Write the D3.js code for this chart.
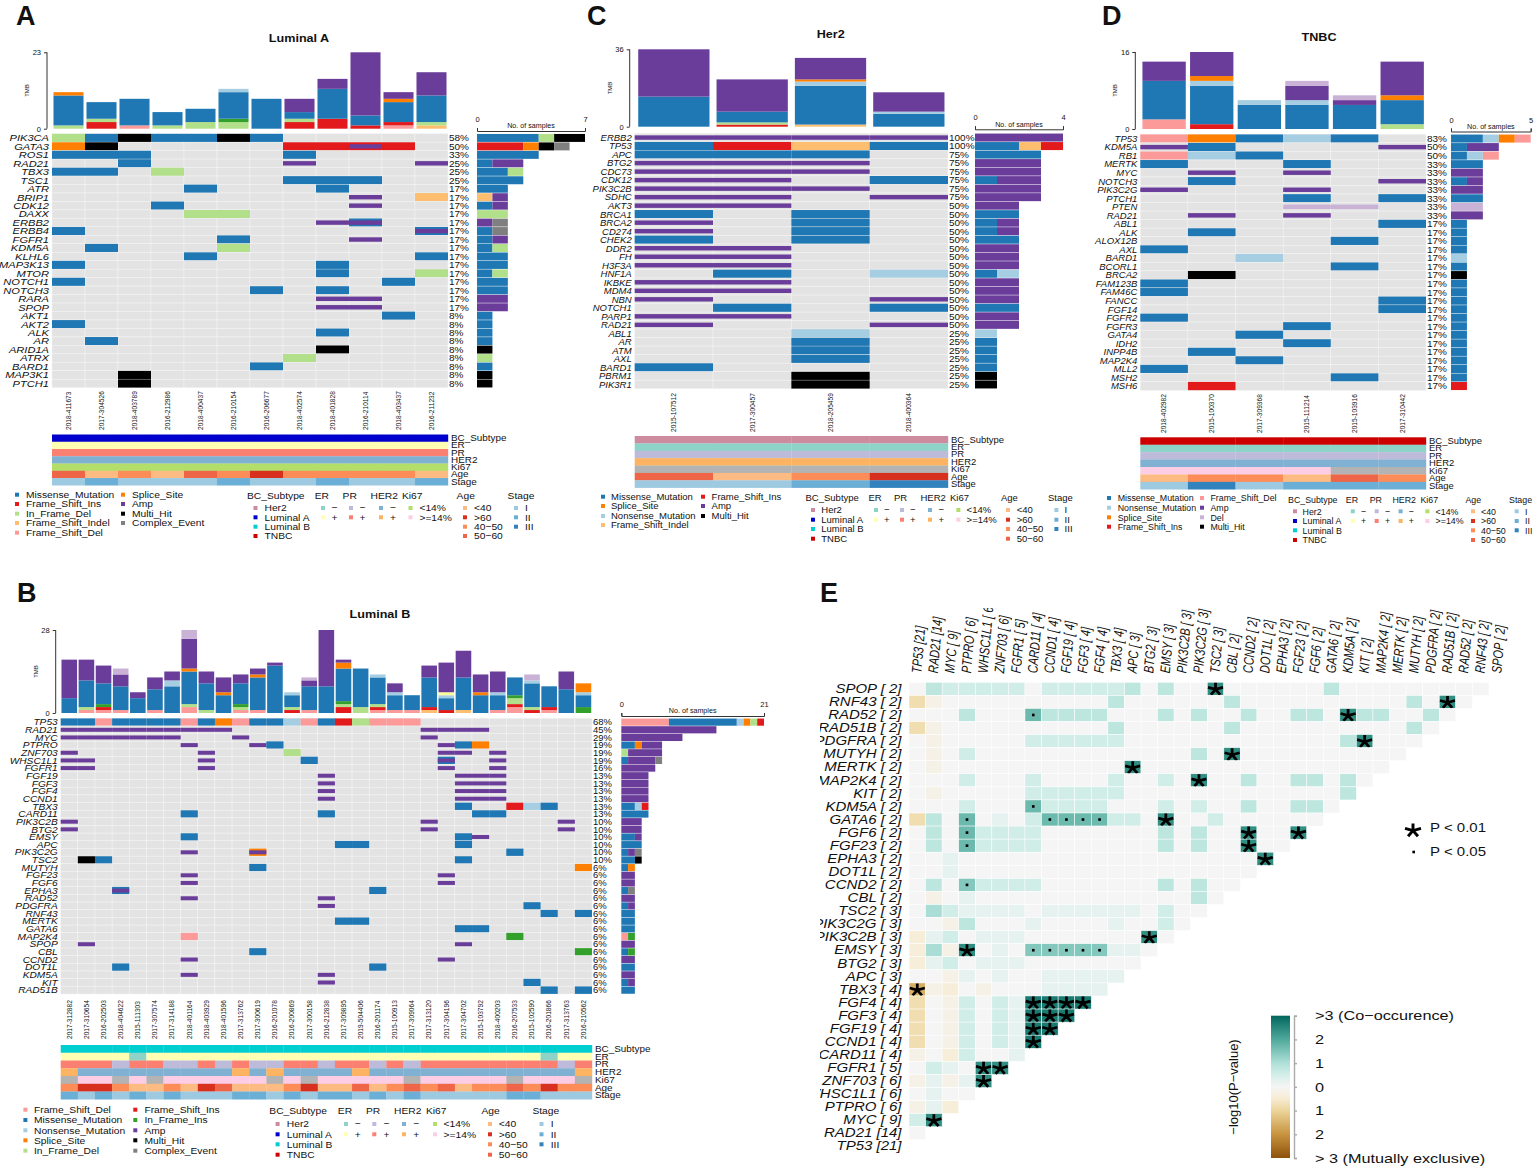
<!DOCTYPE html>
<html>
<head>
<meta charset="utf-8">
<script src="https://cdnjs.cloudflare.com/ajax/libs/d3/7.8.5/d3.min.js"></script>
<style>
  html, body { margin: 0; padding: 0; background: #fff; }
  text { font-family: "Liberation Sans", Arial, sans-serif; fill: #111; }
</style>
</head>
<body>
<div id="chart"></div>
<script>
// mutation classes, one letter each in the tables below
const mutColors = { M: "#1f78b4", I: "#e31a1c", D: "#b2df8a", S: "#fdbf6f", F: "#fb9a99", P: "#ff7f00",
  A: "#6a3d9a", H: "#000000", C: "#7f7f7f", N: "#a6cee3", Z: "#cab2d6", G: "#33a02c", Y: "#ffff99" };
const mutNames = { M: "Missense_Mutation", I: "Frame_Shift_Ins", D: "In_Frame_Del", S: "Frame_Shift_Indel",
  F: "Frame_Shift_Del", P: "Splice_Site", A: "Amp", H: "Multi_Hit", C: "Complex_Event",
  N: "Nonsense_Mutation", Z: "Del", G: "In_Frame_Ins" };
// lower case = base mutation with an amp drawn on top
const overlayBase = { m: "M", i: "I", p: "P" };

// Luminal A
const samplesA = ["2018-411673","2017-304526","2018-403789","2016-212986","2018-400437","2016-210154","2016-206677","2018-402574","2018-401828","2016-210114","2018-403437","2016-211232"];
const genesA = ["PIK3CA","GATA3","ROS1","RAD21","TBX3","TSC1","ATR","BRIP1","CDK12","DAXX","ERBB2","ERBB4","FGFR1","KDM5A","KLHL6","MAP3K13","MTOR","NOTCH1","NOTCH3","RARA","SPOP","AKT1","AKT2","ALK","AR","ARID1A","ATRX","BARD1","MAP3K1","PTCH1"];
const pctA = [58,50,33,25,25,25,17,17,17,17,17,17,17,17,17,17,17,17,17,17,17,8,8,8,8,8,8,8,8,8];
const cellsA = ["0D 1M 2H 3M 4M 5H 6M","0P 1H 7I 8I 9i 10I","0M 1M 2M 7M","2M 7A 11A","0M 1M 3D","7M 8M 9M","4M 8M","9A 11S","3M 9A","4D 5D","8A 9m","0M 11m","5M 9A","1M 5D","4M 11M","0M 8M","8M 11D","0M 10M","6M 8M","8A 9A","8A 9A","10M","0M","8M","1M","8H","7D","6M","2H","2H"];
const sideA = ["M4 D1 H2","I3 P1 H1 C1","M4","M1 A2","M2 D1","M3","M2","S1 A1","M1 A1","D2","A1 C1","M1 C1","M1 A1","M1 D1","M2","M2","M1 D1","M2","M2","A2","A2","M1","M1","M1","M1","H1","D1","M1","H1","H1"];
const tmbA = ["D1 M9 P1","I2 D1 M5","F1 M8","D1 M4","D2 M4","D2 G1 M8 N1","M9","I2 D1 M2 A4","I3 M9 A3","I1 M3 A19","F1 I1 M6 P1 A2","S1 D1 M8 A7"];
const clinA = ["AAAAAAAAAAAA","++++++++++++","++++++++++++","------------","llllllllllll","hymyhmommmmy","121112112112"];

// Luminal B
const samplesB = ["2017-312882","2017-310654","2016-202503","2018-404622","2015-111303","2017-307574","2017-314188","2018-401164","2018-403929","2018-401596","2017-313762","2017-300619","2016-201078","2016-200869","2017-300158","2016-212838","2017-309895","2019-504406","2016-201174","2015-100913","2017-309064","2017-313120","2017-304196","2017-304702","2015-103792","2018-400203","2016-207533","2015-102590","2016-201866","2017-313763","2016-210562"];
const genesB = ["TP53","RAD21","MYC","PTPRO","ZNF703","WHSC1L1","FGFR1","FGF19","FGF3","FGF4","CCND1","TBX3","CARD11","PIK3C2B","BTG2","EMSY","APC","PIK3C2G","TSC2","MUTYH","FGF23","FGF6","EPHA3","RAD52","PDGFRA","RNF43","MERTK","GATA6","MAP2K4","SPOP","CBL","CCND2","DOT1L","KDM5A","KIT","RAD51B"];
const pctB = [68,45,29,19,19,19,16,13,13,13,13,13,13,10,10,10,10,10,10,6,6,6,6,6,6,6,6,6,6,6,6,6,6,6,6,6];
const cellsB = ["0M 1M 2F 3M 4M 5M 6M 7F 8M 9P 10F 11M 12M 13N 14F 15M 16I 17D 18F 19F 20F",
  "0A 1A 2A 3A 4A 5A 6A 7A 8A 9A 21A 22A 23A 24A","0A 1A 2A 3A 4A 5A 6A 10A 21A","7A 11A 12M 22A 23M 24P",
  "0A 8A 13D 22A 23A 25A","0A 1A 8A 14M 22m 25A","0A 1A 8A 22A 25A","15A 23A 24A 25A","15A 23A 24A 25A","15A 23A 24A 25A","15A 23A 24A 25A",
  "23M 26I 27N 28M","7M 15M 24M 25M","0A 21A 29A","0A 21A 29A","7M 23M 24A","16M 17M 23M","7A 11p 26M","1H 2M 23M","11M 30P",
  "7A 22A","7A 22A","3m 18M","7A 15A","15A 27M","28M 30M","16M 17M","23M 24M","7F 26G","1A 23A","11M 30G","7A 22A","3M 18M","7A 15A","15A 27M","28M 30M"];
const sideB = ["F7 M10 N1 P1 D1 I1","A14","A9","M2 P1 A3","D1 A5","M1 A4 C1","A5","A4","A4","A4","A4","M2 N1 I1","M4","A3","A3","M2 A1","M3","M1 A1 C1","M2 H1","M1 P1","A2","A2","M1 C1","A2","M1 A1","M2","M2","M2","F1 G1","A2","M1 G1","A2","M2","A2","M1 A1","M2"];
const tmbB = ["M5 A13","F1 D1 M9 A7","F1 I1 G1 M7 A6","F1 M8 A4 Z2","M5 A2","F1 M7 A4","M9 N2 A3","F2 D1 M11 P1 A10 Z3","D1 M9 A4","M6 P1 A5","F1 D1 G1 M7 A3","F1 M11 P1 A2","M16 A1","I1 D1 M4 N1","F1 M8 A2 Z1","M9 A19","I2 D1 G1 M11 P2 A1","D2 M13","F1 I1 D1 M9 N1","F1 M5 N1 A3","F1 M5","S1 I1 M10 A4","I1 M4 N1 Y1 A10","S1 M11 A9","M6 P1 A6","F1 M5 N1 A7","F2 I1 D2 G1 M6","I1 D1 M8 N1 Z2","F1 I1 M7","M8 A6","G2 M4 N1 P3"];
const clinB = ["BBBBBBBBBBBBBBBBBBBBBBBBBBBBBBB","++++-+++++++++++++++++++++++-++","+++-++--+-+--++-++-+-++++++++-+","+---------+-+----+------------+","nggngnggggggngngggggngggggngggn","moomyymyohyyymoyyhymhmhymmhmomm","2121212111221212212121111122111"];

// Her2
const samplesC = ["2015-107512","2017-300457","2018-205459","2018-400364"];
const genesC = ["ERBB2","TP53","APC","BTG2","CDC73","CDK12","PIK3C2B","SDHC","AKT3","BRCA1","BRCA2","CD274","CHEK2","DDR2","FH","H3F3A","HNF1A","IKBKE","MDM4","NBN","NOTCH1","PARP1","RAD21","ABL1","AR","ATM","AXL","BARD1","PBRM1","PIK3R1"];
const pctC = [100,100,75,75,75,75,75,75,50,50,50,50,50,50,50,50,50,50,50,50,50,50,50,25,25,25,25,25,25,25];
const cellsC = ["0A 1A 2A 3A","0M 1I 2S 3M","0M 1M 2M","0A 1A 2A","0A 1A 2A","0A 1A 3M","0A 1A 2A","0A 1A 3A","0A 1A","0M 2M","0A 2M","0A 2M","0M 2M","0A 1A","0A 1A","0A 1A","1M 3N","0A 1A","0A 1A","0A 3A","1M 3M","0A 1A","0A 3A","2N","2M","2M","2M","0M","2H","2H"];
const sideC = ["A4","M2 S1 I1","M3","A3","A3","M1 A2","A3","A3","A2","M2","M1 A1","M1 A1","M2","A2","A2","A2","M1 N1","A2","A2","A2","M2","A2","A2","N1","M1","M1","M1","M1","H1","H1"];
const tmbC = ["M14 A22","I1 D1 M5 A15","S1 M18 N2 P1 A10","M6 N1 A9"];
const clinC = ["HHHH","----","----","++++","nnnn","hymo","1123"];

// TNBC
const samplesD = ["2018-402982","2015-100370","2017-309368","2015-111214","2015-103916","2017-310442"];
const genesD = ["TP53","KDM5A","RB1","MERTK","MYC","NOTCH3","PIK3C2G","PTCH1","PTEN","RAD21","ABL1","ALK","ALOX12B","AXL","BARD1","BCORL1","BRCA2","FAM123B","FAM46C","FANCC","FGF14","FGFR2","FGFR3","GATA4","IDH2","INPP4B","MAP2K4","MLL2","MSH2","MSH6"];
const pctD = [83,50,50,33,33,33,33,33,33,33,17,17,17,17,17,17,17,17,17,17,17,17,17,17,17,17,17,17,17,17];
const cellsD = ["0F 1P 2M 3N 4M","0A 1M 5A","0F 1N 2M","0M 3M","1A 3A","1M 5A","0A 3A","3M 5M","3Z 4Z","1A 3A","5M","1M","4M","0M","2N","4M","1H","0M","0M","5M","5M","0M","3M","2M","3M","1M","2M","0M","4M","1I"];
const sideD = ["M2 N1 P1 F1","M1 A2","M1 N1 F1","M2","A2","M1 A1","A2","M2","Z2","A2","M1","M1","M1","M1","N1","M1","H1","M1","M1","M1","M1","M1","M1","M1","M1","M1","M1","M1","M1","I1"];
const tmbD = ["F2 M8 A4","I1 M8 N1 P1 A5","M5 N1","M5 N1 A3 Z1","M5 A1 Z1","D1 M5 P1 A7"];
const clinD = ["TTTTTT","------","------","------","ggggnn","ymmyhm","131222"];

// clinical tracks
const trackNames = ["BC_Subtype","ER","PR","HER2","Ki67","Age","Stage"];
const trackColors = [
  { H: "#cd8b9f", A: "#0000cd", B: "#00ced1", T: "#cd0000" },
  { "-": "#8dd3c7", "+": "#ffffb3" },
  { "-": "#bebada", "+": "#fb8072" },
  { "-": "#80b1d3", "+": "#fdb462" },
  { l: "#b3de69", g: "#fccde5", n: "#b3b3b3" },
  { y: "#fdbb84", o: "#d7301f", m: "#fc8d59", h: "#ef6548" },
  { 1: "#9ecae1", 2: "#6baed6", 3: "#3182bd" }
];
const trackLegend = [
  [["H","Her2"],["A","Luminal A"],["B","Luminal B"],["T","TNBC"]],
  [["-","\u2212"],["+","+"]],
  [["-","\u2212"],["+","+"]],
  [["-","\u2212"],["+","+"]],
  [["l","<14%"],["g",">=14%"]],
  [["y","<40"],["o",">60"],["m","40\u221250"],["h","50\u221260"]],
  [["1","I"],["2","II"],["3","III"]]
];

// co-occurrence panel
const coGenes = ["TP53","RAD21","MYC","PTPRO","WHSC1L1","ZNF703","FGFR1","CARD11","CCND1","FGF19","FGF3","FGF4","TBX3","APC","BTG2","EMSY","PIK3C2B","PIK3C2G","TSC2","CBL","CCND2","DOT1L","EPHA3","FGF23","FGF6","GATA6","KDM5A","KIT","MAP2K4","MERTK","MUTYH","PDGFRA","RAD51B","RAD52","RNF43","SPOP"];
const coCounts = [21,14,9,6,6,6,5,4,4,4,4,4,4,3,3,3,3,3,3,2,2,2,2,2,2,2,2,2,2,2,2,2,2,2,2,2];
const coRowGenes = ["SPOP","RNF43","RAD52","RAD51B","PDGFRA","MUTYH","MERTK","MAP2K4","KIT","KDM5A","GATA6","FGF6","FGF23","EPHA3","DOT1L","CCND2","CBL","TSC2","PIK3C2G","PIK3C2B","EMSY","BTG2","APC","TBX3","FGF4","FGF3","FGF19","CCND1","CARD11","FGFR1","ZNF703","WHSC1L1","PTPRO","MYC","RAD21","TP53"];
const coRowCounts = [2,2,2,2,2,2,2,2,2,2,2,2,2,2,2,2,2,3,3,3,3,3,3,4,4,4,4,4,4,5,6,6,6,9,14,21];
const coCells = [
  ".cbbbbb.bbbbbc.c..S......c.........",
  "wu..........c......c..........c.S.",
  "...c...Dcccc...c.c..c..cc.Scc..c.",
  "wu..........c......c..........c.",
  ".u.....bbbbbb.............cS...",
  ".u.b.............c.S..........",
  ".u...........S...............",
  "...b...b....b..b.S..c..cc.c.",
  ".u.....bbbbbb.............c",
  "...b...Dbbbb...b.b..c..cc.",
  "wc.D.a.bDDDDbb.S..b......",
  ".c.Dbbbb.......c.c..S..S",
  ".c.Dbbbb.......c.c..S..",
  "..a..................S",
  "..a..................",
  ".c.Ebbbb.......c.c..",
  ".u.a.............c.",
  ".dbaaaa.aaaaaa.b..",
  "..uc...a....a..b.",
  "vab.aaa.......S.",
  "vduS.a.EEEEEaa.",
  "vab.aaa.......",
  "..ua.a..aaaaa",
  "Xuv.u...aaaa",
  "w.ub.baTTTT",
  "w.ub.baTTT",
  "w.ub.baTT",
  "w.ub.baT",
  "u.vb..a",
  ".ba.SS",
  "uauaS",
  ".a..",
  "uav",
  "bS",
  ".",
  ""
];
// signed -log10(p) for each cell letter
const coValues = { ".": 0, a: 0.25, b: 0.55, c: 0.8, d: 1.05, E: 1.45, D: 1.7, S: 2.4, T: 2.7, u: -0.2, v: -0.4, w: -0.8, X: -1.6 };
const coStars = "STX", coDots = "ED";
const colorbarLabels = ["> 3 (Mutually exclusive)","2","1","0","1","2",">3 (Co\u2212occurence)"];
const colorbarTicks = [-3,-2,-1,0,1,2,3];

const svg = d3.select("#chart").append("svg").attr("width", 1535).attr("height", 1168);

// text helper, the source figure is stretched sideways
function label(g, x, y, str, size, sx, anchor) {
  return g.append("text")
    .attr("transform", `translate(${x},${y}) scale(${sx || 1},1)`)
    .attr("dy", ".35em")
    .attr("text-anchor", anchor || "start")
    .style("font-size", size + "px")
    .text(str);
}

const parseStack = s => s.split(" ").map(t => ({ code: t[0], n: +t.slice(1) }));
const parseCells = s => Array.from(s.matchAll(/(\d+)([A-Za-z])/g), m => ({ col: +m[1], code: m[2] }));

function oncoplot(p) {
  const g = svg.append("g");
  const x = d3.scaleBand().domain(p.samples).range([p.x0, p.x1]);
  const y = d3.scaleBand().domain(p.genes).range([p.y0, p.y1]);

  label(g, p.titleX, p.titleY, p.title, 10.5, 1.2, "middle").style("font-weight", "bold");

  // TMB stacked bars
  const yTmb = d3.scaleLinear().domain([0, p.tmbMax]).range([p.tmbBase, p.tmbTop]);
  const barW = x.bandwidth() * 0.91;
  p.tmb.forEach((s, i) => {
    let sum = 0;
    parseStack(s).forEach(d => {
      g.append("rect")
        .attr("x", x(p.samples[i]) + (x.bandwidth() - barW) / 2)
        .attr("y", yTmb(sum + d.n))
        .attr("width", barW)
        .attr("height", yTmb(sum) - yTmb(sum + d.n))
        .attr("fill", mutColors[d.code]);
      sum += d.n;
    });
  });
  const axL = g.append("g").attr("transform", `translate(${p.x0 - 5},0)`)
    .call(d3.axisLeft(yTmb).tickValues([0, p.tmbMax]).tickFormat(d3.format("d")).tickSize(3).tickPadding(3));
  axL.selectAll("path,line").attr("stroke", "#333");
  axL.selectAll("text").style("font-size", "7.5px").attr("fill", "#333").style("font-family", "Liberation Sans");
  axL.select(".domain").attr("d", `M0,${p.tmbBase}V${p.tmbTop}`);
  g.append("text").attr("transform", `translate(${p.x0 - 23},${(p.tmbBase + p.tmbTop) / 2}) rotate(-90)`)
    .attr("text-anchor", "middle").style("font-size", "6px").text("TMB");

  // oncoplot matrix
  p.genes.forEach((gene, r) => {
    p.samples.forEach(s => {
      g.append("rect").attr("x", x(s)).attr("y", y(gene)).attr("width", x.bandwidth()).attr("height", y.bandwidth())
        .attr("fill", "#e3e3e3").attr("stroke", "#f4f4f4").attr("stroke-width", 0.5);
    });
    parseCells(p.cells[r]).forEach(c => {
      const base = overlayBase[c.code] || c.code;
      const narrow = base === "A" || base === "Z";
      const h = narrow ? y.bandwidth() * 0.52 : y.bandwidth() * 0.97;
      g.append("rect").attr("x", x(p.samples[c.col])).attr("width", x.bandwidth())
        .attr("y", y(gene) + (y.bandwidth() - h) / 2).attr("height", h)
        .attr("fill", mutColors[base]);
      if (overlayBase[c.code]) {
        const h2 = y.bandwidth() * 0.52;
        g.append("rect").attr("x", x(p.samples[c.col])).attr("width", x.bandwidth())
          .attr("y", y(gene) + (y.bandwidth() - h2) / 2).attr("height", h2)
          .attr("fill", mutColors.A);
      }
    });
    label(g, p.x0 - 3, y(gene) + y.bandwidth() / 2, gene, p.geneFont, p.geneSx, "end").style("font-style", "italic");
    label(g, p.x1 + 1, y(gene) + y.bandwidth() / 2, p.pct[r] + "%", p.geneFont, 1.05);
  });

  // samples per gene
  const xSide = d3.scaleLinear().domain([0, p.sideMax]).range([p.sx0, p.sx1]);
  p.genes.forEach((gene, r) => {
    let sum = 0;
    parseStack(p.side[r]).forEach(d => {
      g.append("rect").attr("x", xSide(sum)).attr("y", y(gene) + 0.25)
        .attr("width", xSide(sum + d.n) - xSide(sum)).attr("height", y.bandwidth() - 0.5)
        .attr("fill", mutColors[d.code]);
      sum += d.n;
    });
  });
  const axT = g.append("g").attr("transform", `translate(0,${p.sideAxisY})`)
    .call(d3.axisTop(xSide).tickValues([0, p.sideMax]).tickFormat(d3.format("d")).tickSize(3).tickPadding(6));
  axT.selectAll("path,line").attr("stroke", "#333");
  axT.selectAll("text").style("font-size", "7.5px").attr("fill", "#333").style("font-family", "Liberation Sans");
  label(g, (p.sx0 + p.sx1) / 2, p.sideAxisY - 5, "No. of samples", 6.5, 1.1, "middle");

  // sample ids
  p.samples.forEach(s => {
    g.append("text").attr("transform", `translate(${x(s) + x.bandwidth() / 2},${p.idBottom}) rotate(-90)`)
      .attr("dy", ".35em").attr("text-anchor", "start").style("font-size", "6.6px").text(s);
  });

  // clinical tracks
  const yTrack = d3.scaleBand().domain(trackNames).range([p.trackTop, p.trackBottom]);
  trackNames.forEach((t, k) => {
    p.clin[k].split("").forEach((code, i) => {
      g.append("rect").attr("x", x(p.samples[i])).attr("y", yTrack(t))
        .attr("width", x.bandwidth() + 0.2).attr("height", yTrack.bandwidth() + 0.2)
        .attr("fill", trackColors[k][code]);
    });
    label(g, p.x1 + 3, yTrack(t) + yTrack.bandwidth() / 2, t, 8.5, p.trackSx * 1.06);
  });

  // legend, mutation classes
  p.mutLegend.forEach(col => {
    col.codes.forEach((code, i) => {
      const yy = p.mutRows[i];
      g.append("rect").attr("x", col.mx - 2).attr("y", yy - 2).attr("width", 4).attr("height", 4).attr("fill", mutColors[code]);
      label(g, col.tx, yy, mutNames[code], 9.5, p.legendSx);
    });
  });

  // legend, clinical
  trackNames.forEach((t, k) => {
    label(g, p.headX[k], p.headY, t, 9.5, p.legendSx);
    trackLegend[k].forEach((it, i) => {
      const yy = p.itemRows[i];
      g.append("rect").attr("x", p.itemMx[k] - 2).attr("y", yy - 2).attr("width", 4).attr("height", 4).attr("fill", trackColors[k][it[0]]);
      label(g, p.itemTx[k], yy, it[1], 9.5, p.legendSx);
    });
  });
}

oncoplot({
  title: "Luminal A", titleX: 299, titleY: 38,
  samples: samplesA, genes: genesA, pct: pctA, cells: cellsA, side: sideA, tmb: tmbA, clin: clinA,
  x0: 52, x1: 448, y0: 133.7, y1: 387.7, geneFont: 9.5, geneSx: 1.17,
  tmbMax: 23, tmbBase: 128.7, tmbTop: 52.3,
  sideMax: 7, sx0: 477, sx1: 585, sideAxisY: 131,
  idBottom: 430, trackTop: 434.5, trackBottom: 485.3, trackSx: 1.1, legendSx: 1.08,
  mutLegend: [{ codes: ["M","I","D","S","F"], mx: 17, tx: 26 }, { codes: ["P","A","H","C"], mx: 123, tx: 132 }],
  mutRows: [494.7, 504, 513.7, 523, 532.7],
  headX: [247, 314.7, 342.6, 370.5, 402, 456.6, 507.6], headY: 495.3,
  itemMx: [255.5, 323, 351, 381, 410.5, 465, 516], itemTx: [264.5, 331.6, 359.5, 390, 419.4, 474, 525],
  itemRows: [508, 517.3, 526.7, 536]
});

oncoplot({
  title: "Luminal B", titleX: 380, titleY: 614,
  samples: samplesB, genes: genesB, pct: pctB, cells: cellsB, side: sideB, tmb: tmbB, clin: clinB,
  x0: 60.7, x1: 592, y0: 718.3, y1: 994, geneFont: 9, geneSx: 1.13,
  tmbMax: 28, tmbBase: 713, tmbTop: 630,
  sideMax: 21, sx0: 621.3, sx1: 764, sideAxisY: 716,
  idBottom: 1039, trackTop: 1045, trackBottom: 1099.3, trackSx: 1.1, legendSx: 1.08,
  mutLegend: [{ codes: ["F","M","N","P","D"], mx: 25.4, tx: 34 }, { codes: ["I","G","A","H","C"], mx: 135.3, tx: 144.4 }],
  mutRows: [1109.7, 1120, 1130.3, 1140.3, 1150.7],
  headX: [269.3, 337.8, 366, 394, 426, 481.4, 532.4], headY: 1110.7,
  itemMx: [277.6, 346, 374.3, 404, 435, 490, 541.5], itemTx: [286.8, 354.8, 383.4, 413.3, 443.6, 498.8, 550.7],
  itemRows: [1124, 1134.3, 1144.3, 1154.7]
});

oncoplot({
  title: "Her2", titleX: 830.7, titleY: 34.7,
  samples: samplesC, genes: genesC, pct: pctC, cells: cellsC, side: sideC, tmb: tmbC, clin: clinC,
  x0: 634.7, x1: 948, y0: 133.3, y1: 388.7, geneFont: 9.5, geneSx: 1,
  tmbMax: 36, tmbBase: 126.7, tmbTop: 49.3,
  sideMax: 4, sx0: 975, sx1: 1063, sideAxisY: 129.3,
  idBottom: 432, trackTop: 436, trackBottom: 487.7, trackSx: 1.05, legendSx: 1,
  mutLegend: [{ codes: ["M","P","N","S"], mx: 603, tx: 611 }, { codes: ["I","A","H"], mx: 703, tx: 711.6 }],
  mutRows: [496.7, 506, 516, 525],
  headX: [805.5, 868.5, 894, 920.5, 950, 1001, 1048], headY: 497.7,
  itemMx: [813, 876, 902, 930, 958.4, 1008, 1056.4], itemTx: [821.3, 884, 910, 938.5, 966.6, 1016.7, 1064.6],
  itemRows: [510, 519.7, 529, 538.7]
});

oncoplot({
  title: "TNBC", titleX: 1319, titleY: 37,
  samples: samplesD, genes: genesD, pct: pctD, cells: cellsD, side: sideD, tmb: tmbD, clin: clinD,
  x0: 1140.3, x1: 1426, y0: 134.3, y1: 390.3, geneFont: 9.5, geneSx: 1,
  tmbMax: 16, tmbBase: 129, tmbTop: 52,
  sideMax: 5, sx0: 1451, sx1: 1530.7, sideAxisY: 131.5,
  idBottom: 433, trackTop: 437.3, trackBottom: 489.3, trackSx: 1.05, legendSx: 0.93,
  mutLegend: [{ codes: ["M","N","P","I"], mx: 1109, tx: 1117.7 }, { codes: ["F","A","Z","H"], mx: 1202, tx: 1210.4 }],
  mutRows: [498, 507.7, 517.3, 526.7],
  headX: [1288, 1345.8, 1369.7, 1392.5, 1420.4, 1465.4, 1509], headY: 499.3,
  itemMx: [1295, 1352.8, 1376.7, 1400.6, 1427.4, 1473, 1516.7], itemTx: [1302.6, 1361, 1385, 1408.8, 1435.6, 1481, 1525],
  itemRows: [511.3, 521, 530.3, 540]
});

// Panel E
const eg = svg.append("g");
const xCo = d3.scaleBand().domain(coGenes).range([909, 909 + 36 * 16.57]);
const yCo = d3.scaleBand().domain(coRowGenes).range([682.3, 682.3 + 36 * 13.07]);
const coColor = d3.scaleLinear()
  .domain([-3, -2, -1, -0.5, 0, 0.5, 1, 2, 3])
  .range(["#8c510a", "#c89440", "#ecd49a", "#f6ecd2", "#f5f5f5", "#d4eee9", "#aee0d8", "#4fa99c", "#01665e"]);
const coLabel = (g, n) => `${g} [${n < 10 ? " " + n : n}]`;

const defs = svg.append("defs");
defs.append("clipPath").attr("id", "clipTop").append("rect").attr("x", 880).attr("y", 608).attr("width", 640).attr("height", 80);
defs.append("clipPath").attr("id", "clipLeft").append("rect").attr("x", 820).attr("y", 670).attr("width", 90).attr("height", 490);

// five armed star for the significant cells
function drawStar(g, cx, cy, r) {
  const path = d3.path();
  d3.range(5).forEach(i => {
    const a = -Math.PI / 2 + i * 2 * Math.PI / 5;
    path.moveTo(0, 0);
    path.lineTo(r * 1.2 * Math.cos(a), r * Math.sin(a));
  });
  g.append("path").attr("transform", `translate(${cx},${cy + 0.6})`)
    .attr("d", path.toString()).attr("fill", "none")
    .attr("stroke", "#000").attr("stroke-width", r * 0.42);
}

coRowGenes.forEach((gene, r) => {
  coCells[r].split("").forEach((code, c) => {
    eg.append("rect")
      .attr("x", xCo(coGenes[c])).attr("y", yCo(gene))
      .attr("width", xCo.bandwidth()).attr("height", yCo.bandwidth())
      .attr("fill", coColor(coValues[code])).attr("stroke", "#fff").attr("stroke-width", 0.5);
    const cx = xCo(coGenes[c]) + xCo.bandwidth() / 2, cy = yCo(gene) + yCo.bandwidth() / 2;
    if (coStars.includes(code)) {
      drawStar(eg, cx, cy, 6.6);
    } else if (coDots.includes(code)) {
      eg.append("path").attr("transform", `translate(${cx},${cy})`)
        .attr("d", d3.symbol(d3.symbolSquare, 7)()).attr("fill", "#000");
    }
  });
});

const rowLabels = eg.append("g").attr("clip-path", "url(#clipLeft)");
coRowGenes.forEach((gene, r) => {
  label(rowLabels, 901.5, yCo(gene) + yCo.bandwidth() / 2, coLabel(gene, coRowCounts[r]), 12, 1.25, "end").style("font-style", "italic");
});
const colLabels = eg.append("g").attr("clip-path", "url(#clipTop)");
coGenes.forEach((gene, c) => {
  colLabels.append("text")
    .attr("transform", `translate(${xCo(gene) + xCo.bandwidth() / 2 - 1},673) rotate(-85) scale(0.78,1)`)
    .attr("dy", ".35em").style("font-size", "14px").style("font-style", "italic")
    .text(coLabel(gene, coCounts[c]));
});

// significance key
drawStar(eg, 1413, 830, 7);
eg.append("path").attr("transform", "translate(1413.7,852)").attr("d", d3.symbol(d3.symbolSquare, 7)());
label(eg, 1430, 828, "P < 0.01", 12.5, 1.2);
label(eg, 1430, 852, "P < 0.05", 12.5, 1.2);

// colour bar
const yBar = d3.scaleLinear().domain([-3, 3]).range([1158, 1015.7]);
const grad = defs.append("linearGradient").attr("id", "coGrad").attr("x1", 0).attr("x2", 0).attr("y1", 1).attr("y2", 0);
d3.range(-3, 3.01, 0.25).forEach(v => {
  grad.append("stop").attr("offset", (v + 3) / 6).attr("stop-color", coColor(v));
});
eg.append("rect").attr("x", 1271).attr("y", yBar(3)).attr("width", 19).attr("height", yBar(-3) - yBar(3)).attr("fill", "url(#coGrad)");
const barAxis = eg.append("g").attr("transform", "translate(1294,0)")
  .call(d3.axisRight(yBar).tickValues(colorbarTicks).tickSize(3).tickFormat((d, i) => colorbarLabels[i]));
barAxis.selectAll("path,line").attr("stroke", "#aaa").attr("stroke-width", 1.4);
barAxis.selectAll("text")
  .attr("x", 0)
  .attr("transform", "translate(21,0) scale(1.25,1)")
  .style("font-size", "13px").style("font-family", "Liberation Sans").attr("fill", "#111");
eg.append("text").attr("transform", "translate(1233,1087) rotate(-90)").attr("dy", ".35em")
  .attr("text-anchor", "middle").style("font-size", "13px").text("\u2212log10(P\u2212value)");

// panel letters
[["A", 16, 25], ["C", 587, 25], ["D", 1102, 25], ["B", 17, 602], ["E", 820, 602]].forEach(d => {
  svg.append("text").attr("x", d[1]).attr("y", d[2]).style("font-size", "27px").style("font-weight", "bold").attr("fill", "#000").text(d[0]);
});
</script>
</body>
</html>
